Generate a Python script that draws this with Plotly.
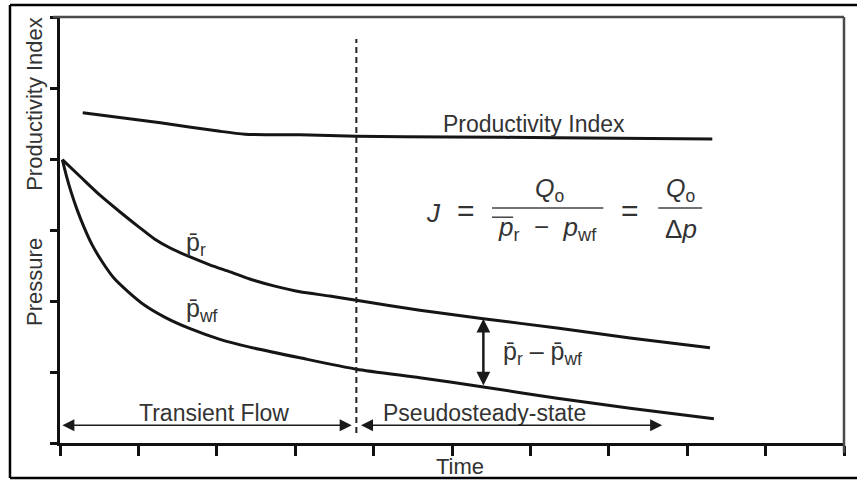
import plotly.graph_objects as go

# Productivity index J(t)
pi_time = [0.29, 1.28, 2.04, 2.36, 3.06, 3.78, 4.97, 6.34, 8.32]
pi_value = [4.65, 4.51, 4.39, 4.35, 4.34, 4.32, 4.31, 4.30, 4.28]

# Average reservoir pressure p_r(t)
pr_time = [0.03, 0.26, 0.51, 0.77, 1.02, 1.21, 1.40, 1.66, 1.91, 2.17, 2.42, 2.74,
           3.06, 3.44, 3.78, 4.59, 5.40, 6.34, 7.27, 8.29]
pr_value = [3.99, 3.75, 3.49, 3.25, 3.03, 2.87, 2.75, 2.62, 2.51, 2.41, 2.31, 2.21,
            2.13, 2.07, 2.01, 1.87, 1.75, 1.62, 1.48, 1.34]

# Bottom-hole flowing pressure p_wf(t)
pwf_time = [0.03, 0.08, 0.14, 0.22, 0.31, 0.41, 0.54, 0.69, 0.87, 1.08, 1.34, 1.66,
            2.04, 2.42, 3.06, 3.78, 4.59, 5.40, 6.34, 7.27, 8.34]
pwf_value = [3.99, 3.77, 3.54, 3.28, 3.03, 2.79, 2.55, 2.32, 2.13, 1.94, 1.77, 1.61,
             1.46, 1.35, 1.20, 1.04, 0.92, 0.79, 0.63, 0.49, 0.34]

# End of transient flow / start of pseudosteady state
transition_time = 3.78
# Time at which the drawdown p_r - p_wf is marked
drawdown_time = 5.40
# Extent of the flow-regime arrows along the time axis
transient_start = 0.03
pss_end = 7.68
regime_arrow_level = 0.25

x_ticks = list(range(0, 11))
y_ticks = list(range(0, 7))

TXT = "#333333"
FONT = "Liberation Sans, Arial, sans-serif"

fig = go.Figure()
for t, v in [(pi_time, pi_value), (pr_time, pr_value), (pwf_time, pwf_value)]:
    fig.add_trace(go.Scatter(x=t, y=v, mode="lines",
                             line=dict(color="#151515", width=3, shape="spline", smoothing=0.6),
                             showlegend=False, hoverinfo="skip"))

i_r = pr_time.index(drawdown_time)
i_wf = pwf_time.index(drawdown_time)

shapes = [
    # transition line
    dict(type="line", xref="x", yref="y", x0=transition_time, x1=transition_time,
         y0=0.14, y1=5.69, line=dict(color="#222222", width=2, dash="6px,4px")),
    # upper and right frame edges
    dict(type="line", xref="paper", yref="paper", x0=-0.009, x1=1.0, y0=1, y1=1,
         line=dict(color="#4a4a4a", width=2.5)),
    dict(type="line", xref="paper", yref="paper", x0=1.0, x1=1.0, y0=1, y1=-0.023,
         line=dict(color="#4a4a4a", width=2.5)),
    # outer border
    dict(type="line", xref="paper", yref="paper", x0=-0.0638, x1=1.03, y0=1.028, y1=1.028,
         line=dict(color="black", width=2.5)),
    dict(type="line", xref="paper", yref="paper", x0=-0.0638, x1=1.03, y0=-0.0822, y1=-0.0822,
         line=dict(color="black", width=2.5)),
    dict(type="line", xref="paper", yref="paper", x0=-0.0638, x1=-0.0638, y0=-0.0822, y1=1.028,
         line=dict(color="black", width=2.5)),
    # fraction bars and overline in the J formula
    dict(type="line", xref="x", yref="y", x0=5.51, x1=6.93, y0=3.31, y1=3.31,
         line=dict(color="#444444", width=1.5)),
    dict(type="line", xref="x", yref="y", x0=7.63, x1=8.19, y0=3.31, y1=3.31,
         line=dict(color="#444444", width=1.5)),
    dict(type="line", xref="x", yref="y", x0=5.51, x1=5.78, y0=3.18, y1=3.18,
         line=dict(color="#444444", width=1.5)),
]

ann = []
def text(x, y, s, size=23, xanchor="center", xref="x", yref="y", angle=0):
    ann.append(dict(x=x, y=y, xref=xref, yref=yref, text=s, showarrow=False,
                    xanchor=xanchor, yanchor="middle", textangle=angle,
                    font=dict(family=FONT, size=size, color=TXT)))

def arrow(x0, y0, x1, y1, width, size):
    ann.append(dict(x=x1, y=y1, ax=x0, ay=y0, xref="x", yref="y", axref="x", ayref="y",
                    text="", showarrow=True, arrowhead=2, arrowside="end+start",
                    arrowwidth=width, arrowsize=size, arrowcolor="#1a1a1a",
                    standoff=0, startstandoff=0))

# axis titles
text(-0.032, 0.796, "Productivity Index", size=22, xref="paper", yref="paper", angle=-90)
text(-0.032, 0.378, "Pressure", size=22, xref="paper", yref="paper", angle=-90)
text(5.10, -0.056, "Time", size=22, yref="paper")

# curve labels
text(6.05, 4.49, "Productivity Index", size=23)
text(1.58, 2.80, "p\u0304<sub>r</sub>", size=25, xanchor="left")
text(1.58, 1.88, "p\u0304<sub>wf</sub>", size=25, xanchor="left")
text(5.62, 1.27, "p\u0304<sub>r</sub> \u2013 p\u0304<sub>wf</sub>", size=25, xanchor="left")

# flow regimes
text(1.96, 0.42, "Transient Flow", size=23)
text(5.42, 0.42, "Pseudosteady-state", size=23)
arrow(transition_time - 0.04, regime_arrow_level, transient_start, regime_arrow_level, 1.6, 1.5)
arrow(transition_time + 0.04, regime_arrow_level, pss_end, regime_arrow_level, 1.6, 1.5)

# drawdown arrow
arrow(drawdown_time, pwf_value[i_wf], drawdown_time, pr_value[i_r], 2.5, 1.1)

# J formula
text(4.77, 3.24, "<i>J</i>", size=26)
text(5.18, 3.27, "=", size=30)
text(6.24, 3.56, "<i>Q</i><sub>o</sub>", size=25)
text(6.22, 3.02, "<i>p</i><sub>r</sub>  \u2212  <i>p</i><sub>wf</sub>", size=26)
text(7.27, 3.27, "=", size=30)
text(7.92, 3.56, "<i>Q</i><sub>o</sub>", size=25)
text(7.92, 3.02, "\u0394<i>p</i>", size=26)

fig.update_layout(
    width=857, height=480,
    margin=dict(l=60, r=13, t=17, b=37),
    paper_bgcolor="white", plot_bgcolor="white",
    shapes=shapes, annotations=ann,
    xaxis=dict(range=[0, 10], tickvals=x_ticks, showticklabels=False, showgrid=False,
               zeroline=False, showline=True, linecolor="#111111", linewidth=2.5,
               ticks="outside", ticklen=10, tickwidth=2.5, tickcolor="#111111"),
    yaxis=dict(range=[0, 6], tickvals=y_ticks, showticklabels=False, showgrid=False,
               zeroline=False, showline=True, linecolor="#111111", linewidth=2.5,
               ticks="outside", ticklen=7, tickwidth=2.5, tickcolor="#111111"),
)

fig.write_html("out.html")
